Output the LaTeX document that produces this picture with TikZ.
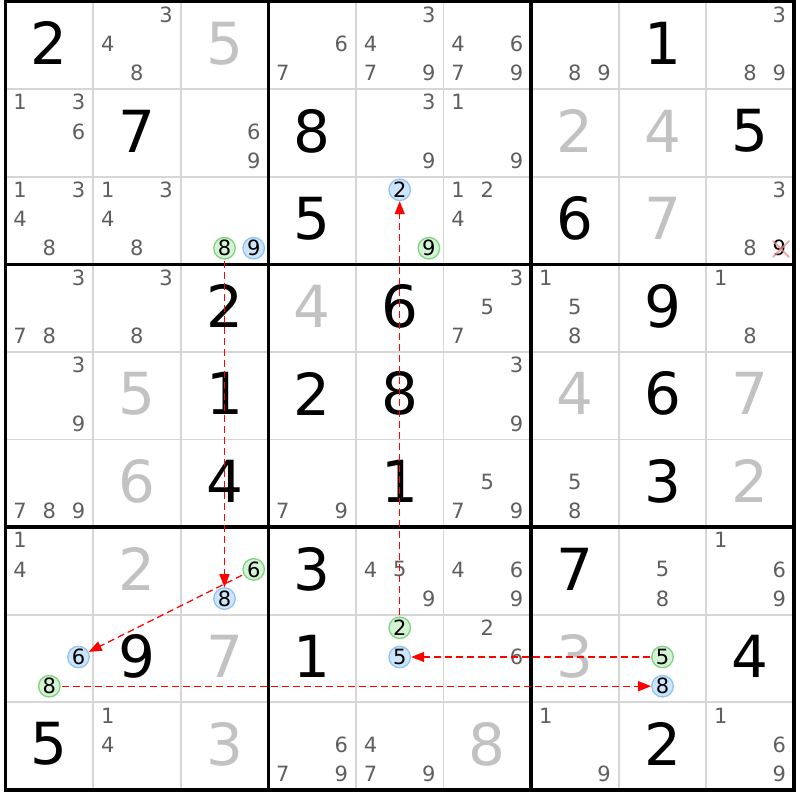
\documentclass[tikz,border=0pt]{standalone}
\usepackage{fontspec}
\setmainfont{DejaVu Sans}
\usetikzlibrary{arrows.meta}
\definecolor{gfill}{HTML}{D4F2D4}
\definecolor{gline}{HTML}{7FD47F}
\definecolor{bfill}{HTML}{CDE5FA}
\definecolor{bline}{HTML}{8FC4F2}
\definecolor{candgray}{HTML}{5F5F5F}
\definecolor{solvgray}{HTML}{C2C2C2}
\definecolor{thingray}{HTML}{D6D6D6}
\definecolor{xpink}{HTML}{F08A8A}
\newcommand\gridL{5.5}
\newcommand\gridT{1.5}
\newcommand\cs{87.6}
\newcommand\bigd[4]{%
  \pgfmathsetmacro\px{\gridL+(#3-0.5)*\cs}%
  \pgfmathsetmacro\py{\gridT+(#2-0.5)*\cs-2}%
  \node[#1] (g-#2-#3) at (\px,\py) {#4};}
\newcommand\candd[5]{%
  \pgfmathtruncatemacro\sc{mod(#4-1,3)}%
  \pgfmathtruncatemacro\sr{div(#4-1,3)}%
  \pgfmathsetmacro\px{\gridL+(#3-1)*\cs+(\sc+0.5)*\cs/3}%
  \pgfmathsetmacro\py{\gridT+(#2-1)*\cs+(\sr+0.5)*\cs/3-1.5}%
  \node[#1] (#5-#2-#3-#4) at (\px,\py) {#4};}
\tikzset{
  givend/.style={inner sep=0pt, text=black, font=\fontsize{58}{58}\selectfont},
  solvd/.style={inner sep=0pt, text=solvgray, font=\fontsize{58}{58}\selectfont},
  cand/.style={inner sep=0pt, text=candgray, font=\fontsize{21}{21}\selectfont},
  candblack/.style={inner sep=0pt, text=black, font=\fontsize{21}{21}\selectfont},
  hgreen/.style={circle, draw=gline, fill=gfill, line width=1.3pt, inner sep=0pt, minimum size=21.5pt, text=black, font=\fontsize{21}{21}\selectfont},
  hblue/.style={circle, draw=bline, fill=bfill, line width=1.3pt, inner sep=0pt, minimum size=21.5pt, text=black, font=\fontsize{21}{21}\selectfont},
  thinline/.style={thingray, line width=1.8pt},
  thickline/.style={black, line width=3.3pt},
  arr/.style={red, line width=1.3pt, dash pattern=on 7pt off 4pt, shorten <=1.5pt, -{Triangle[length=13pt,width=10pt]}},
  xline/.style={xpink, line width=2pt, opacity=0.75, line cap=round}
}
\begin{document}
\begin{tikzpicture}[x=1pt,y=-1pt]
\useasboundingbox (0,0) rectangle (800,800);
\fill[white] (0,0) rectangle (800,800);
% thin grid lines
\foreach \i in {1,2,4,5,7,8}{
  \draw[thinline] (\gridL+\i*\cs,\gridT) -- (\gridL+\i*\cs,\gridT+9*\cs);
  \draw[thinline] (\gridL,\gridT+\i*\cs) -- (\gridL+9*\cs,\gridT+\i*\cs);
}
% given digits
\foreach \r/\c/\d in {1/1/2,1/8/1,2/2/7,2/4/8,2/9/5,3/4/5,3/7/6,4/3/2,4/5/6,4/8/9,5/3/1,5/4/2,5/5/8,5/8/6,6/3/4,6/5/1,6/8/3,7/4/3,7/7/7,8/2/9,8/4/1,8/9/4,9/1/5,9/8/2}{
  \bigd{givend}{\r}{\c}{\d}
}
% solved digits
\foreach \r/\c/\d in {1/3/5,2/7/2,2/8/4,3/8/7,4/4/4,5/2/5,5/7/4,5/9/7,6/2/6,6/9/2,7/2/2,8/3/7,8/7/3,9/3/3,9/6/8}{
  \bigd{solvd}{\r}{\c}{\d}
}
% candidates
\foreach \r/\c/\ks in {1/2/{3,4,8},1/4/{6,7},1/5/{3,4,7,9},1/6/{4,6,7,9},1/7/{8,9},1/9/{3,8,9},
  2/1/{1,3,6},2/3/{6,9},2/5/{3,9},2/6/{1,9},
  3/1/{1,3,4,8},3/2/{1,3,4,8},3/6/{1,2,4},3/9/{3,8},
  4/1/{3,7,8},4/2/{3,8},4/6/{3,5,7},4/7/{1,5,8},4/9/{1,8},
  5/1/{3,9},5/6/{3,9},
  6/1/{7,8,9},6/4/{7,9},6/6/{5,7,9},6/7/{5,8},
  7/1/{1,4},7/5/{4,5,9},7/6/{4,6,9},7/8/{5,8},7/9/{1,6,9},
  8/6/{2,6},
  9/2/{1,4},9/4/{6,7,9},9/5/{4,7,9},9/7/{1,9},9/9/{1,6,9}}{
  \foreach \k in \ks {\candd{cand}{\r}{\c}{\k}{c}}
}
% highlighted candidates
\foreach \r/\c/\k in {3/3/8,3/5/9,7/3/6,8/1/8,8/5/2,8/8/5}{
  \candd{hgreen}{\r}{\c}{\k}{h}
}
\foreach \r/\c/\k in {3/3/9,3/5/2,7/3/8,8/1/6,8/5/5,8/8/8}{
  \candd{hblue}{\r}{\c}{\k}{h}
}
% eliminated candidate
\candd{candblack}{3}{9}{9}{c}
\draw[xline] (773,241) -- (789,257) (773,257) -- (789,241);
% thick lines
\foreach \i in {0,3,6,9}{
  \draw[thickline] (\gridL+\i*\cs,\gridT) -- (\gridL+\i*\cs,\gridT+9*\cs);
  \draw[thickline] (\gridL,\gridT+\i*\cs) -- (\gridL+9*\cs,\gridT+\i*\cs);
}
\draw[thickline, line cap=rect] (\gridL,\gridT) rectangle (\gridL+9*\cs,\gridT+9*\cs);
% arrows
\draw[arr] (h-3-3-8) -- (h-7-3-8);
\draw[arr] (h-7-3-6) -- (h-8-1-6);
\draw[arr] (h-8-1-8) -- (h-8-8-8);
\draw[arr] (h-8-8-5) -- (h-8-5-5);
\draw[arr] (h-8-5-2) -- (h-3-5-2);
\end{tikzpicture}
\end{document}
